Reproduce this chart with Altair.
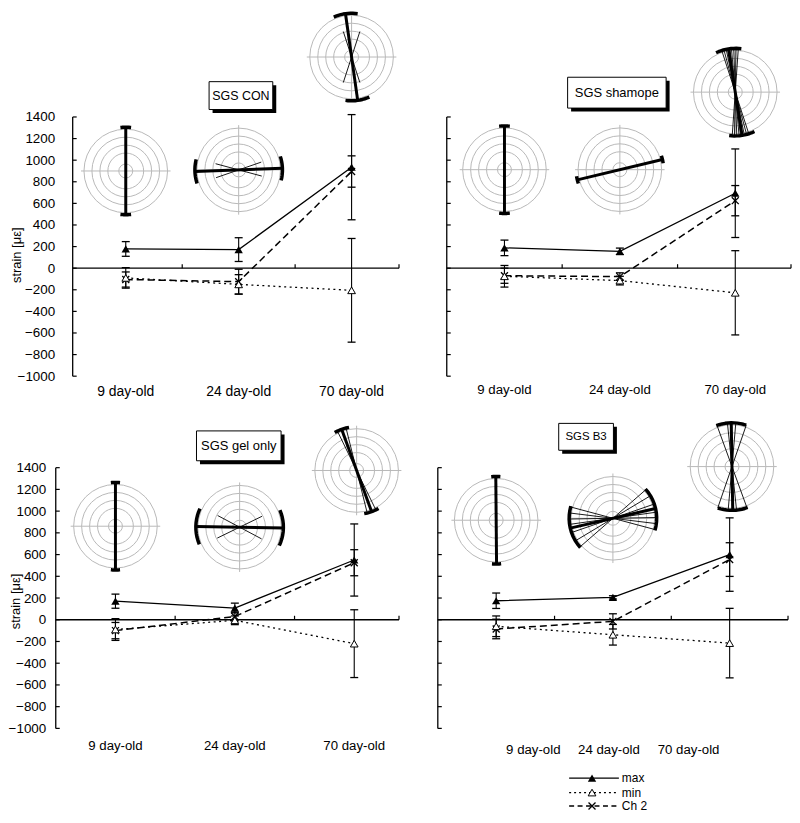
import math
import altair as alt
import pandas as pd

FONT = "Liberation Sans, Arial, Helvetica, sans-serif"
AGES = ["9 day-old", "24 day-old", "70 day-old"]
POS = [0, 1, 2]
Y_TICKS = [-1000, -800, -600, -400, -200, 0, 200, 400, 600, 800, 1000, 1200, 1400]
LEGEND = ["max", "min", "Ch 2"]

# ---------------- strain values (mean, +/- error) ----------------
con_max = [178, 172, 935]
con_max_err = [68, 110, 487]
con_min = [-90, -150, -205]
con_min_err = [95, 90, 480]
con_ch2 = [-105, -125, 895]
con_ch2_err = [70, 115, 145]

sham_max = [188, 156, 694]
sham_max_err = [72, 30, 410]
sham_min = [-75, -115, -228]
sham_min_err = [100, 40, 390]
sham_ch2 = [-70, -78, 625]
sham_ch2_err = [70, 35, 140]

gel_max = [171, 108, 550]
gel_max_err = [65, 45, 332]
gel_min = [-90, -5, -220]
gel_min_err = [100, 40, 312]
gel_ch2 = [-100, 30, 525]
gel_ch2_err = [75, 40, 120]

b3_max = [175, 206, 600]
b3_max_err = [71, 15, 338]
b3_min = [-60, -138, -215]
b3_min_err = [95, 95, 320]
b3_ch2 = [-85, -15, 554]
b3_ch2_err = [90, 70, 155]

# ---------------- polar insets: centre, main angle (deg), cap half-spread, thin lines ----------------
con_inset_x = [0, 1, 2]
con_inset_y = [900, 910, 1955]
con_inset_angle = [90, 2, 98]
con_inset_cap = [7, 16, 16]
con_inset_thin = [[], [-17, 17], [-26, 10]]
con_inset_thin_r = [0, 24, 27]

sham_inset_x = [0, 1, 2]
sham_inset_y = [912, 912, 1630]
sham_inset_angle = [90, 13.5, 99]
sham_inset_cap = [7, 5, 17]
sham_inset_thin = [[], [], [-13, -10, -7, -4, -2, 3, 6, 9]]
sham_inset_thin_r = [0, 0, 44]

gel_inset_x = [0, 1.04, 2.02]
gel_inset_y = [861, 852, 1374]
gel_inset_angle = [90, -1, 110]
gel_inset_cap = [6, 24, 10]
gel_inset_thin = [[], [-27, 27], [-6, 6]]
gel_inset_thin_r = [0, 25, 44]

b3_inset_x = [0, 1, 2.02]
b3_inset_y = [916, 934, 1410]
b3_inset_angle = [90.5, 13, 91]
b3_inset_cap = [6, 29, 20]
b3_inset_thin = [[], [-28, -20, -12, -5, 6, 18, 28], [-20, -6, 5, 19]]
b3_inset_thin_r = [0, 45, 44]

RING_R = [42, 34, 26, 18, 7]
GRAY = "#b8b8b8"
CROSS_R = 45
MAIN_R = 44


def P(a):
    t = math.radians(a)
    return math.cos(t), -math.sin(t)


def line_path(a):
    x, y = P(a)
    return f"M{-x:.4f},{-y:.4f}L{x:.4f},{y:.4f}"


def arc_path(a, d, n=10):
    pts = [P(a - d + 2 * d * i / n) for i in range(n + 1)]
    return "M" + "L".join(f"{x:.4f},{y:.4f}" for x, y in pts)


def inset_rows(cx, cy, ang, cap, thin, thin_r):
    rows = []
    for r in RING_R:
        rows.append(dict(cx=cx, cy=cy, shape="circle", size=(2 * r) ** 2, col=GRAY, sw=1.0))
    rows.append(dict(cx=cx, cy=cy, shape="M-1,0L1,0M0,-1L0,1", size=(2 * CROSS_R) ** 2, col=GRAY, sw=1.0))
    for o in thin:
        rows.append(dict(cx=cx, cy=cy, shape=line_path(ang + o), size=(2 * thin_r) ** 2, col="black", sw=0.9))
    rows.append(dict(cx=cx, cy=cy, shape=line_path(ang), size=(2 * MAIN_R) ** 2, col="black", sw=3.0))
    rows.append(dict(cx=cx, cy=cy, shape=arc_path(ang, cap) + arc_path(ang + 180, cap),
                     size=(2 * MAIN_R) ** 2, col="black", sw=3.5))
    return rows


def build_panel(cfg, vals, ins, legend=False):
    mx, mxe, mn, mne, c2, c2e = vals
    x0, x1 = cfg["xdom"]
    xa = cfg["axis_x"]
    y0, y1 = cfg["ydom"]
    W, H = cfg["w"], cfg["h"]
    kx = W / (x1 - x0)
    ky = H / (y1 - y0)
    xsc = alt.Scale(domain=[x0, x1], nice=False, zero=False)
    ysc = alt.Scale(domain=[y0, y1], nice=False, zero=False)
    if cfg["ylabels"]:
        yax = alt.Axis(values=Y_TICKS, format="d", ticks=False, domain=False, grid=False,
                       labelPadding=cfg["lpad"], labelFont=FONT, labelFontSize=13.5,
                       labelColor="black", labelFlush=False, labelOverlap=False,
                       title="strain [με]", titleFont=FONT, titleFontSize=13,
                       titleFontWeight="normal", titleColor="black",
                       titleX=cfg["tx"], titleY=cfg["ty"], titleAngle=270,
                       titleBaseline="middle", titleAlign="center")
    else:
        yax = None

    def X(f):
        return alt.X(f, type="quantitative", scale=xsc, axis=None)

    def Y(f):
        return alt.Y(f, type="quantitative", scale=ysc, axis=yax)

    layers = []

    # polar insets
    rows = []
    ix, iy, ia, ic, it, itr = ins
    for i in range(3):
        rows += inset_rows(ix[i], iy[i], ia[i], ic[i], it[i], itr[i])
    inset_df = pd.DataFrame(rows)
    layers.append(alt.Chart(inset_df).mark_point(filled=False, opacity=1, strokeJoin="round").encode(
        x=X("cx"), y=Y("cy"),
        shape=alt.Shape("shape:N", scale=None),
        size=alt.Size("size:Q", scale=None),
        color=alt.Color("col:N", scale=None),
        strokeWidth=alt.StrokeWidth("sw:Q", scale=None)))

    # zero line with ticks
    zero = pd.DataFrame({"xa": [xa], "xb": [x1], "y": [0]})
    layers.append(alt.Chart(zero).mark_rule(color="black", strokeWidth=1.3).encode(
        x=X("xa"), x2="xb", y=Y("y")))
    zt = pd.DataFrame({"x": [0.5, 1.5, x1], "y": [0, 0, 0], "y2": [4 / ky] * 3})
    layers.append(alt.Chart(zt).mark_rule(color="black", strokeWidth=1.2).encode(
        x=X("x"), y=Y("y"), y2="y2"))

    # y axis line and inward ticks
    yl = pd.DataFrame({"x": [xa], "ya": [Y_TICKS[0]], "yb": [Y_TICKS[-1]]})
    layers.append(alt.Chart(yl).mark_rule(color="black", strokeWidth=1.3).encode(
        x=X("x"), y=Y("ya"), y2="yb"))
    yt = pd.DataFrame({"xa": [xa] * len(Y_TICKS), "xb": [xa + 4 / kx] * len(Y_TICKS), "y": Y_TICKS})
    layers.append(alt.Chart(yt).mark_rule(color="black", strokeWidth=1.2).encode(
        x=X("xa"), x2="xb", y=Y("y")))

    series = pd.DataFrame({
        "series": ["max"] * 3 + ["min"] * 3 + ["Ch 2"] * 3,
        "pos": POS * 3,
        "val": mx + mn + c2,
        "err": mxe + mne + c2e,
    })
    series["lo"] = series["val"] - series["err"]
    series["hi"] = series["val"] + series["err"]

    # lines
    layers.append(alt.Chart(series[series.series == "min"]).mark_line(
        color="black", strokeWidth=1.3, strokeDash=[2, 3.5]).encode(x=X("pos"), y=Y("val")))
    layers.append(alt.Chart(series[series.series == "Ch 2"]).mark_line(
        color="black", strokeWidth=1.5, strokeDash=[7, 4]).encode(x=X("pos"), y=Y("val")))
    layers.append(alt.Chart(series[series.series == "max"]).mark_line(
        color="black", strokeWidth=1.3).encode(x=X("pos"), y=Y("val")))

    # error bars
    layers.append(alt.Chart(series).mark_rule(color="black", strokeWidth=1.1).encode(
        x=X("pos"), y=Y("lo"), y2="hi"))
    caps = pd.concat([
        series[["pos", "lo"]].rename(columns={"lo": "v"}),
        series[["pos", "hi"]].rename(columns={"hi": "v"}),
    ])
    layers.append(alt.Chart(caps).mark_point(shape="M-1,0L1,0", size=64, filled=False,
                                             color="black", opacity=1, strokeWidth=1.3).encode(
        x=X("pos"), y=Y("v")))

    # markers
    layers.append(alt.Chart(series[series.series == "Ch 2"]).mark_point(
        shape="M-1,-1L1,1M-1,1L1,-1", filled=False, color="black", strokeWidth=1.3,
        size=49, opacity=1).encode(x=X("pos"), y=Y("val")))
    layers.append(alt.Chart(series[series.series == "min"]).mark_point(
        shape="triangle-up", filled=True, fill="white", stroke="black", strokeWidth=1,
        size=60, opacity=1).encode(x=X("pos"), y=Y("val")))
    layers.append(alt.Chart(series[series.series == "max"]).mark_point(
        shape="triangle-up", filled=True, color="black", size=70, opacity=1).encode(
        x=X("pos"), y=Y("val")))

    # title box with shadow
    bx, by, bw, bh, fs, title = cfg["box"]
    sh = 3.5
    box = pd.DataFrame({"xa": [bx - bw / 2 / kx], "xb": [bx + bw / 2 / kx],
                        "ya": [by + bh / 2 / ky], "yb": [by - bh / 2 / ky]})
    shadow = pd.DataFrame({"xa": box.xa + sh / kx, "xb": box.xb + sh / kx,
                           "ya": box.ya - sh / ky, "yb": box.yb - sh / ky})
    layers.append(alt.Chart(shadow).mark_rect(color="black").encode(
        x=X("xa"), x2="xb", y=Y("ya"), y2="yb"))
    layers.append(alt.Chart(box).mark_rect(fill="white", stroke="black", strokeWidth=1).encode(
        x=X("xa"), x2="xb", y=Y("ya"), y2="yb"))
    layers.append(alt.Chart(pd.DataFrame({"bx": [bx], "by": [by], "t": [title]})).mark_text(
        font=FONT, fontSize=fs, color="black", baseline="middle").encode(
        x=X("bx"), y=Y("by"), text="t:N"))

    # category labels
    lab = pd.DataFrame({"x": cfg["label_x"], "t": AGES})
    layers.append(alt.Chart(lab).mark_text(font=FONT, fontSize=cfg["lfs"], color="black",
                                           baseline="middle").encode(
        x=X("x"), y=alt.value(H + cfg["label_dy"]), text="t:N"))

    if legend:
        lx0, lx1, lm, lt, lys = cfg["legend"]
        styles = [([], 1.3), ([2, 3], 1.2), ([5, 3.5], 1.4)]
        for i, name in enumerate(LEGEND):
            d = pd.DataFrame({"t": [name]})
            dash, sw = styles[i]
            rm = alt.Chart(d).mark_rule(color="black", strokeWidth=sw, strokeDash=dash) if dash else \
                alt.Chart(d).mark_rule(color="black", strokeWidth=sw)
            layers.append(rm.encode(x=alt.value(lx0), x2=alt.value(lx1), y=alt.value(lys[i])))
            if name == "max":
                m = alt.Chart(d).mark_point(shape="triangle-up", filled=True, color="black",
                                            size=70, opacity=1)
            elif name == "min":
                m = alt.Chart(d).mark_point(shape="triangle-up", filled=True, fill="white",
                                            stroke="black", strokeWidth=1, size=60, opacity=1)
            else:
                m = alt.Chart(d).mark_point(shape="M-1,-1L1,1M-1,1L1,-1", filled=False,
                                            color="black", strokeWidth=1.3, size=49, opacity=1)
            layers.append(m.encode(x=alt.value(lm), y=alt.value(lys[i])))
            layers.append(alt.Chart(d).mark_text(font=FONT, fontSize=12, color="black", align="left",
                                                 baseline="middle").encode(
                x=alt.value(lt), y=alt.value(lys[i]), text="t:N"))

    return alt.layer(*layers).properties(width=W, height=H)


TOP_Y = [-1000, 2390]
BOT_Y = [-1000, 1940]

cfg_tl = dict(xdom=[-0.62, 2.42], axis_x=-0.47, w=345, ydom=TOP_Y, h=368, ylabels=True, lpad=1,
              tx=-39, ty=246, label_x=POS, label_dy=16, lfs=14,
              box=(1.02, 1598, 64, 28, 12.5, "SGS CON"))
cfg_tr = dict(xdom=[-0.5, 2.483], axis_x=-0.5, w=346, ydom=TOP_Y, h=368, ylabels=False,
              label_x=POS, label_dy=14, lfs=13.3, box=(0.974, 1625, 99, 31, 13, "SGS shamope"))
cfg_bl = dict(xdom=[-0.5, 2.375], axis_x=-0.5, w=345, ydom=BOT_Y, h=321, ylabels=True, lpad=10,
              tx=-40, ty=193, label_x=POS, label_dy=18, lfs=13.3,
              box=(1.033, 1601, 85, 30, 13, "SGS gel only"))
cfg_br = dict(xdom=[-0.5, 2.5], axis_x=-0.5, w=352, ydom=BOT_Y, h=321, ylabels=False,
              label_x=[0.318, 0.966, 1.648], label_dy=22, lfs=13.3,
              box=(0.77, 1684, 55, 27, 11.5, "SGS B3"),
              legend=(132, 182, 155, 185, [371, 385.5, 399]))

tl = build_panel(cfg_tl, (con_max, con_max_err, con_min, con_min_err, con_ch2, con_ch2_err),
                 (con_inset_x, con_inset_y, con_inset_angle, con_inset_cap, con_inset_thin, con_inset_thin_r))
tr = build_panel(cfg_tr, (sham_max, sham_max_err, sham_min, sham_min_err, sham_ch2, sham_ch2_err),
                 (sham_inset_x, sham_inset_y, sham_inset_angle, sham_inset_cap, sham_inset_thin, sham_inset_thin_r))
bl = build_panel(cfg_bl, (gel_max, gel_max_err, gel_min, gel_min_err, gel_ch2, gel_ch2_err),
                 (gel_inset_x, gel_inset_y, gel_inset_angle, gel_inset_cap, gel_inset_thin, gel_inset_thin_r))
br = build_panel(cfg_br, (b3_max, b3_max_err, b3_min, b3_min_err, b3_ch2, b3_ch2_err),
                 (b3_inset_x, b3_inset_y, b3_inset_angle, b3_inset_cap, b3_inset_thin, b3_inset_thin_r),
                 legend=True)

top = alt.hconcat(tl, tr, spacing=46)
bot = alt.hconcat(bl, br, spacing=35)
chart = alt.vconcat(top, bot, spacing=10).properties(padding=0).configure_view(stroke=None)

chart.save("out.html", embed_options={"renderer": "svg", "actions": False})
